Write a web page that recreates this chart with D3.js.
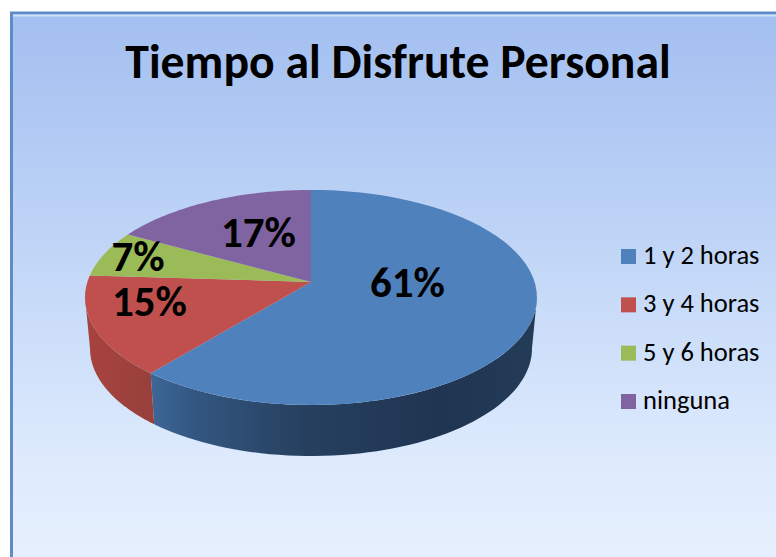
<!DOCTYPE html>
<html><head><meta charset="utf-8">
<script src="https://cdn.jsdelivr.net/npm/d3@7"></script>
<style>html,body{margin:0;padding:0;background:#fff}svg{display:block}</style>
</head><body><svg id="c" width="776" height="557"></svg>
<script>
const titleText = "Tiempo al Disfrute Personal";
const categories = ["1 y 2 horas","3 y 4 horas","5 y 6 horas","ninguna"];
const values = [61,15,7,17];
const topColors = ["#4f81bd","#c0504d","#9bbb59","#8064a2"];
const font = "Carlito, 'Open Sans', 'Noto Sans', sans-serif";

const svg = d3.select("#c");
const defs = svg.append("defs");
const bg = defs.append("linearGradient").attr("id","bg").attr("x1",0).attr("y1",0).attr("x2",0).attr("y2",1);
[[0,"#a3bff0"],[.35,"#bdd3f6"],[.75,"#deebfd"],[1,"#eaf2fe"]].forEach(s=>bg.append("stop").attr("offset",s[0]).attr("stop-color",s[1]));
const sideB = defs.append("linearGradient").attr("id","sideB").attr("gradientUnits","userSpaceOnUse").attr("x1",150).attr("x2",537).attr("y1",0).attr("y2",0);
[[0,"#3d6798"],[.12,"#335680"],[.4,"#26405f"],[.75,"#1f3552"],[1,"#243c58"]].forEach(s=>sideB.append("stop").attr("offset",s[0]).attr("stop-color",s[1]));
const sideR = defs.append("linearGradient").attr("id","sideR").attr("gradientUnits","userSpaceOnUse").attr("x1",84).attr("x2",152).attr("y1",0).attr("y2",0);
[[0,"#a8433f"],[1,"#98403c"]].forEach(s=>sideR.append("stop").attr("offset",s[0]).attr("stop-color",s[1]));

svg.append("rect").attr("x",11.5).attr("y",13).attr("width",800).attr("height",600)
  .attr("fill","url(#bg)").attr("stroke","#5f8cc6").attr("stroke-width",3);
svg.append("line").attr("x1",13).attr("x2",776).attr("y1",15.5).attr("y2",15.5).attr("stroke","#cfe4f8").attr("stroke-width",2);

const cx=311, cy=282, a=223.6, b=105.3, k=0.144, depth=51, lowerX=0.978;
const project=(t,shift=0,s=1)=>{
  const X=Math.sin(t), Y=-Math.cos(t), w=1-k*Y;
  return [cx+s*a*X/w, cy+shift+b*Y/w];
};
const pie=d3.pie().sort(null).startAngle(0).endAngle(2*Math.PI)(values);
const line=d3.line();
const samples=(t0,t1,f)=>d3.range(0,61).map(i=>f(t0+(t1-t0)*i/60));

// side walls: only the near part of the rim, between the silhouette points
pie.forEach((d,i)=>{
  if(i>1) return;
  const t0=Math.max(d.startAngle,Math.PI/2+k), t1=Math.min(d.endAngle,1.5*Math.PI-k);
  const up=samples(t0,t1,t=>project(t));
  const lo=samples(t1,t0,t=>project(t,depth,lowerX));
  svg.append("path").attr("d",line(up.concat(lo))+"Z").attr("fill",i===0?"url(#sideB)":"url(#sideR)");
});
// top faces
pie.forEach((d,i)=>{
  const rim=samples(d.startAngle,d.endAngle,t=>project(t));
  svg.append("path").attr("d",line([[cx,cy],...rim])+"Z").attr("fill",topColors[i]);
});

const txt=(x,y,s,size,w,anchor)=>svg.append("text").attr("x",x).attr("y",y).text(s)
  .attr("font-family",font).attr("font-size",size).attr("font-weight",w).attr("text-anchor",anchor).attr("fill","#000");
txt(398,78,titleText,47.7,700,"middle");

const labelPos=[[407.5,297],[149.5,316],[138,271],[258.5,247]];
pie.forEach((d,i)=>txt(labelPos[i][0],labelPos[i][1],values[i]+"%",43,700,"middle"));

const legY=d3.scalePoint().domain(categories).range([256.5,401.5]);
categories.forEach((c,i)=>{
  svg.append("rect").attr("x",621).attr("y",legY(c)-7.5).attr("width",15).attr("height",15).attr("fill",topColors[i]);
  txt(643,legY(c)+7.5,c,26.5,400,"start");
});
</script></body></html>
